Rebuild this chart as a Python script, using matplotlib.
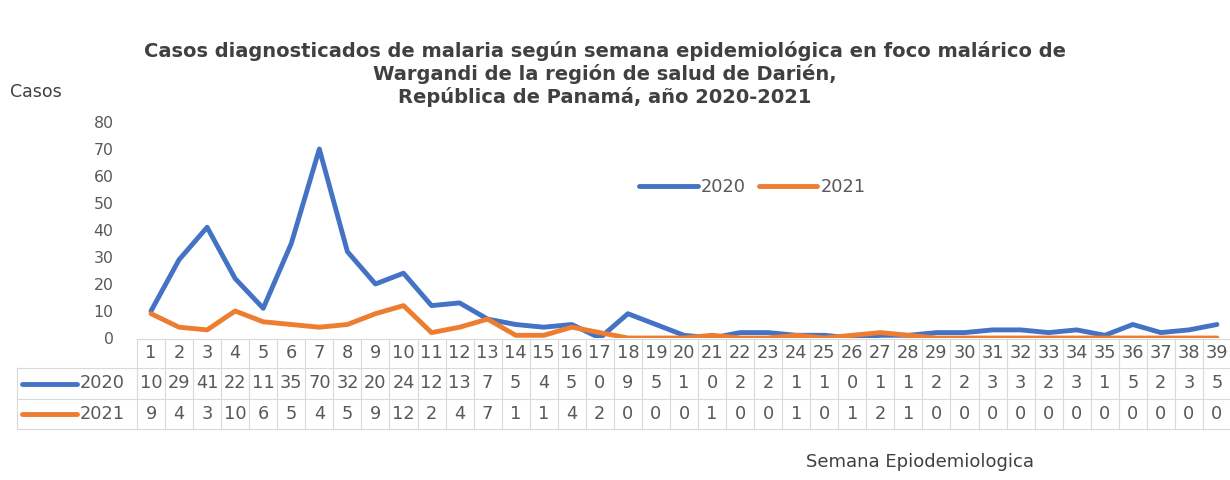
import numpy as np
import matplotlib
matplotlib.use("Agg")
import matplotlib.pyplot as plt

plt.rcParams['font.family'] = ['DejaVu Sans']

weeks = list(range(1, 40))
cases_2020 = [10, 29, 41, 22, 11, 35, 70, 32, 20, 24, 12, 13, 7, 5, 4, 5, 0, 9, 5, 1,
              0, 2, 2, 1, 1, 0, 1, 1, 2, 2, 3, 3, 2, 3, 1, 5, 2, 3, 5]
cases_2021 = [9, 4, 3, 10, 6, 5, 4, 5, 9, 12, 2, 4, 7, 1, 1, 4, 2, 0, 0, 0,
              1, 0, 0, 1, 0, 1, 2, 1, 0, 0, 0, 0, 0, 0, 0, 0, 0, 0, 0]
series = [("2020", cases_2020, "#4472C4"), ("2021", cases_2021, "#ED7D31")]

title = ("Casos diagnosticados de malaria según semana epidemiológica en foco malárico de\n"
         "Wargandi de la región de salud de Darién,\n"
         "República de Panamá, año 2020-2021")

W, H = 1230, 480
fig = plt.figure(figsize=(W / 100, H / 100), dpi=100)
ax_left, ax_right, ax_bot, ax_top = 137, 1231, 338, 122
ax = fig.add_axes([ax_left / W, 1 - ax_bot / H, (ax_right - ax_left) / W, (ax_bot - ax_top) / H])

for name, vals, col in series:
    ax.plot(weeks, vals, color=col, lw=3.5, label=name, solid_capstyle='round', solid_joinstyle='round')

ax.set_xlim(0.5, 39.5)
ax.set_ylim(0, 80)
ax.set_yticks(range(0, 81, 10))
ax.tick_params(axis='y', length=0, labelsize=11.3, labelcolor='#595959', pad=17)
ax.set_xticks([])
for s in ax.spines.values():
    s.set_visible(False)

# data table below the axis
grid = '#D9D9D9'
txt = '#595959'
fs = 12.8
colw = (ax_right - ax_left) / 39


def px_to_x(p):
    return 0.5 + (p - ax_left) / colw


row_edges = [339, 368, 399, 429]
ry = [(ax_bot - r) / (ax_bot - ax_top) for r in row_edges]
trans = ax.get_xaxis_transform()
label_x = px_to_x(17)

for i in range(40):
    ax.plot([i + 0.5] * 2, [ry[0], ry[3]], color=grid, lw=0.8, transform=trans, clip_on=False)
ax.plot([label_x] * 2, [ry[1], ry[3]], color=grid, lw=0.8, transform=trans, clip_on=False)
ax.plot([0.5, 39.5], [ry[0]] * 2, color=grid, lw=0.8, transform=trans, clip_on=False)
for y in ry[1:]:
    ax.plot([label_x, 39.5], [y] * 2, color=grid, lw=0.8, transform=trans, clip_on=False)

for w in weeks:
    ax.text(w, (ry[0] + ry[1]) / 2, str(w), transform=trans, ha='center', va='center',
            fontsize=fs, color=txt)
for k, (name, vals, col) in enumerate(series):
    yc = (ry[k + 1] + ry[k + 2]) / 2
    for w, v in zip(weeks, vals):
        ax.text(w, yc, str(v), transform=trans, ha='center', va='center', fontsize=fs, color=txt)
    ax.plot([px_to_x(22), px_to_x(77)], [yc] * 2, color=col, lw=3.5, transform=trans,
            clip_on=False, solid_capstyle='round')
    ax.text(px_to_x(80), yc, name, transform=trans, ha='left', va='center', fontsize=fs, color=txt)

ax.legend(loc='center left', bbox_to_anchor=(639 / W, 1 - 187 / H), bbox_transform=fig.transFigure,
          ncol=2, frameon=False, fontsize=fs, labelcolor=txt, handlelength=3.3, handletextpad=0.2,
          columnspacing=0.7, borderpad=0, borderaxespad=0)

fig.text(605 / W, 1 - 41 / H, title, ha='center', va='top', fontsize=14, fontweight='bold',
         color='#404040', linespacing=1.2)
fig.text(10 / W, 1 - 92 / H, "Casos", ha='left', va='center', fontsize=12.5, color='#404040')
fig.text(920 / W, 1 - 462 / H, "Semana Epiodemiologica", ha='center', va='center',
         fontsize=13, color='#404040')

fig.savefig("out.png", dpi=100, facecolor='white')
